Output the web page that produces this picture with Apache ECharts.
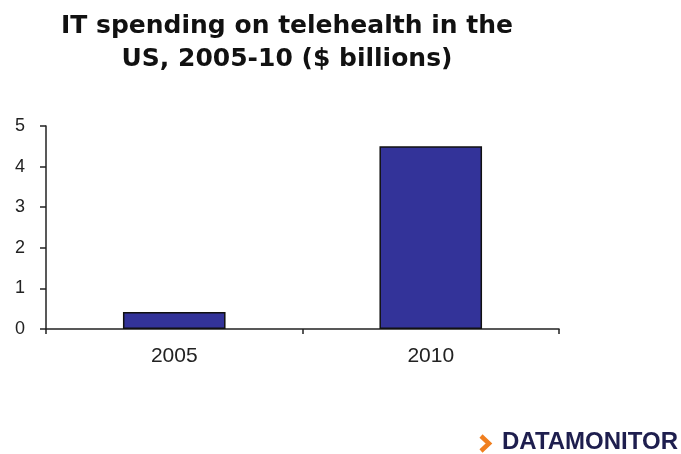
<!DOCTYPE html>
<html>
<head>
<meta charset="utf-8">
<style>
  html, body { margin: 0; padding: 0; background: #fff; }
  #chart { width: 681px; height: 454px; }
</style>
<script src="https://cdn.jsdelivr.net/npm/echarts@6/dist/echarts.min.js"></script>
</head>
<body>
<div id="chart"></div>
<script>
// IT spending on telehealth in the US ($ billions)
const years = ['2005', '2010'];
const spending = [0.42, 4.5];
const yTicks = [0, 1, 2, 3, 4, 5];

const chart = echarts.init(document.getElementById('chart'), null, { renderer: 'canvas' });

chart.setOption({
  backgroundColor: '#ffffff',
  animation: false,
  title: {
    text: 'IT spending on telehealth in the\nUS, 2005-10 ($ billions)',
    left: 282,
    top: 5,
    textAlign: 'center',
    textStyle: {
      fontFamily: 'DejaVu Sans, sans-serif',
      fontWeight: 'bold',
      fontSize: 25,
      lineHeight: 33,
      color: '#111111'
    }
  },
  grid: { left: 46, right: 122, top: 126, bottom: 125 },
  xAxis: {
    type: 'category',
    data: years,
    boundaryGap: true,
    axisLine: { lineStyle: { color: '#222', width: 1.5 } },
    axisTick: { show: true, length: 5, lineStyle: { color: '#222', width: 1.5 } },
    axisLabel: {
      margin: 17,
      fontFamily: 'Liberation Sans, Arial, sans-serif',
      fontSize: 21,
      color: '#222'
    }
  },
  yAxis: {
    type: 'value',
    min: yTicks[0],
    max: yTicks[yTicks.length - 1],
    interval: 1,
    splitLine: { show: false },
    axisLine: { show: true, lineStyle: { color: '#222', width: 1.5 } },
    axisTick: { show: true, length: 6, lineStyle: { color: '#222', width: 1.5 } },
    axisLabel: {
      margin: 21,
      fontFamily: 'Liberation Sans, Arial, sans-serif',
      fontSize: 18,
      color: '#222'
    }
  },
  series: [{
    type: 'bar',
    data: spending,
    barWidth: '40%',
    itemStyle: { color: '#333399', borderColor: '#111', borderWidth: 1.5 }
  }],
  graphic: [
    {
      type: 'polyline',
      shape: { points: [[481, 436], [489, 443.5], [481, 451]] },
      style: { stroke: '#f07f1f', lineWidth: 4.5, fill: null }
    },
    {
      type: 'text',
      left: 502,
      top: 430,
      style: {
        text: 'DATAMONITOR',
        fontFamily: 'Liberation Sans, Arial, sans-serif',
        fontWeight: 'bold',
        fontSize: 24,
        fill: '#1e1e4e'
      }
    }
  ]
});
</script>
</body>
</html>
